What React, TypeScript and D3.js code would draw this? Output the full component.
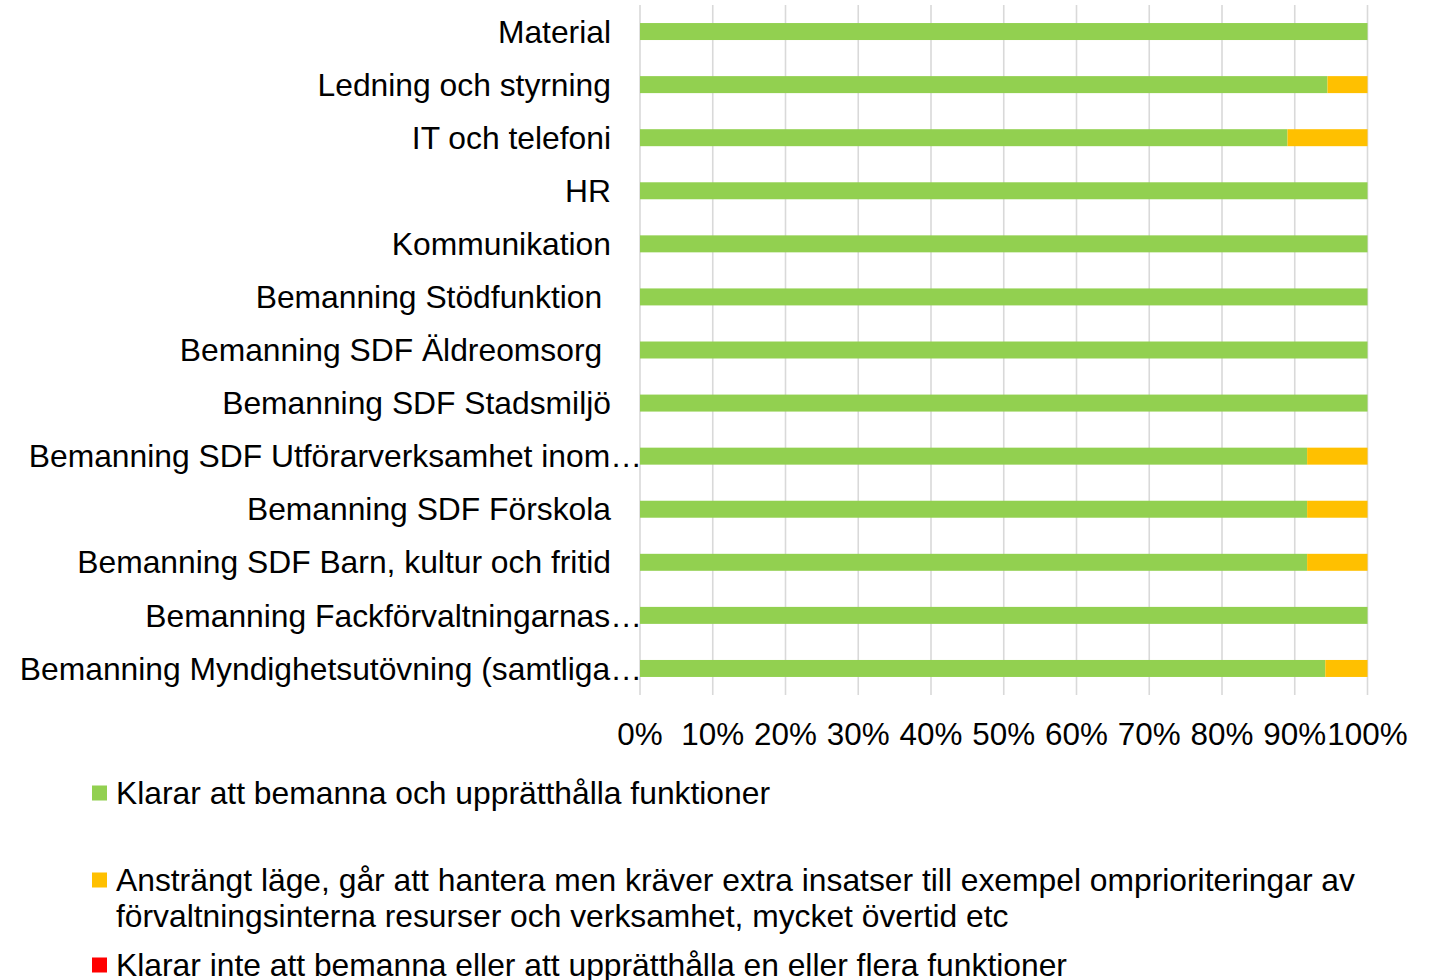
import React from "react";
import * as d3 from "d3";

const categories = [
  "Material",
  "Ledning och styrning",
  "IT och telefoni",
  "HR",
  "Kommunikation",
  "Bemanning Stödfunktion ",
  "Bemanning SDF Äldreomsorg ",
  "Bemanning SDF Stadsmiljö",
  "Bemanning SDF Utförarverksamhet inom…",
  "Bemanning SDF Förskola",
  "Bemanning SDF Barn, kultur och fritid",
  "Bemanning Fackförvaltningarnas…",
  "Bemanning Myndighetsutövning (samtliga…",
];
const klarar = [100, 94.5, 89, 100, 100, 100, 100, 100, 91.7, 91.7, 91.7, 100, 94.2];
const anstrangt = [0, 5.5, 11, 0, 0, 0, 0, 0, 8.3, 8.3, 8.3, 0, 5.8];
const klararInte = [0, 0, 0, 0, 0, 0, 0, 0, 0, 0, 0, 0, 0];
const ticks = [0, 10, 20, 30, 40, 50, 60, 70, 80, 90, 100];
const seriesNames = [
  "Klarar att bemanna och upprätthålla funktioner",
  "Ansträngt läge, går att hantera men kräver extra insatser till exempel omprioriteringar av|förvaltningsinterna resurser och verksamhet, mycket övertid etc",
  "Klarar inte att bemanna eller att upprätthålla en eller flera funktioner",
];
const colors = ["#92D050", "#FFC000", "#FF0000"];

export default function App() {
  const W = 1432, H = 980;
  const x = d3.scaleLinear().domain([0, 100]).range([640, 1367.5]);
  const y = d3.scaleBand<string>().domain(categories).range([5, 695]).paddingInner(0.68).paddingOuter(0.34);
  const rows = categories.map((c, i) => ({ c, vals: [klarar[i], anstrangt[i], klararInte[i]] }));
  const font = "'Liberation Sans', Arial, sans-serif";
  const legendY = [793, 880, 965];
  return (
    <svg width={W} height={H} style={{ position: "absolute", left: 0, top: 0, background: "#fff" }} fontFamily={font}>
      {ticks.map((t) => (
        <line key={t} x1={x(t)} x2={x(t)} y1={5} y2={695} stroke="#d9d9d9" strokeWidth={1.6} />
      ))}
      {rows.map((r) => {
        let acc = 0;
        return (
          <g key={r.c}>
            {r.vals.map((v, k) => {
              const x0 = acc;
              acc += v;
              if (v <= 0) return null;
              return (
                <rect key={k} x={x(x0)} y={y(r.c)!} width={x(x0 + v) - x(x0)} height={y.bandwidth()} fill={colors[k]} />
              );
            })}
          </g>
        );
      })}
      {categories.map((c) => (
        <text
          key={c}
          x={c.endsWith("…") ? 642 : 611}
          y={y(c)! + y.bandwidth() / 2}
          dy="0.35em"
          textAnchor="end"
          fontSize={31.8}
          fill="#000"
          style={{ whiteSpace: "pre" }}
        >
          {c}
        </text>
      ))}
      {ticks.map((t) => (
        <text key={t} x={x(t)} y={745} textAnchor="middle" fontSize={31.4} fill="#000">
          {t}%
        </text>
      ))}
      {seriesNames.map((s, i) => {
        const lines = s.split("|");
        return (
          <g key={i}>
            <rect x={92} y={legendY[i] - 7.5} width={15} height={15} fill={colors[i]} />
            {lines.map((l, j) => (
              <text key={j} x={116} y={legendY[i] + j * 36} dy="0.35em" fontSize={31.8} fill="#000">
                {l}
              </text>
            ))}
          </g>
        );
      })}
    </svg>
  );
}
